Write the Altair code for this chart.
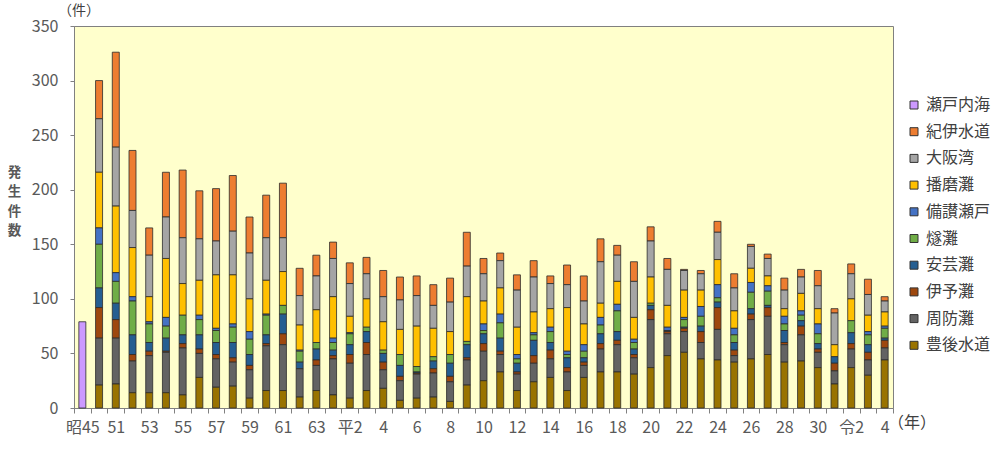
import altair as alt
import pandas as pd

FONT = "Noto Sans CJK JP"

# ---------------- data ----------------
years = ["昭45", "昭50", "昭51", "昭52", "昭53", "昭54", "昭55", "昭56", "昭57", "昭58",
         "昭59", "昭60", "昭61", "昭62", "昭63", "平1", "平2", "平3", "平4", "平5",
         "平6", "平7", "平8", "平9", "平10", "平11", "平12", "平13", "平14", "平15",
         "平16", "平17", "平18", "平19", "平20", "平21", "平22", "平23", "平24", "平25",
         "平26", "平27", "平28", "平29", "平30", "令1", "令2", "令3", "令4"]

tick_labels = ["昭45", "", "51", "", "53", "", "55", "", "57", "",
               "59", "", "61", "", "63", "", "平2", "", "4", "",
               "6", "", "8", "", "10", "", "12", "", "14", "",
               "16", "", "18", "", "20", "", "22", "", "24", "",
               "26", "", "28", "", "30", "", "令2", "", "4"]

series_names = ["瀬戸内海", "紀伊水道", "大阪湾", "播磨灘", "備讃瀬戸",
                "燧灘", "安芸灘", "伊予灘", "周防灘", "豊後水道"]
series_colors = ["#CC99FF", "#ED7D31", "#A5A5A5", "#FFC000", "#4472C4",
                 "#70AD47", "#255E91", "#9E480E", "#636363", "#997300"]

setonaikai = [79, 0, 0, 0, 0, 0, 0, 0, 0, 0, 0, 0, 0, 0, 0, 0, 0, 0, 0, 0, 0, 0, 0, 0, 0,
              0, 0, 0, 0, 0, 0, 0, 0, 0, 0, 0, 0, 0, 0, 0, 0, 0, 0, 0, 0, 0, 0, 0, 0]
bungo = [0, 21, 22, 14, 14, 14, 12, 28, 19, 20, 9, 16, 16, 10, 16, 12, 9, 16, 18, 7,
         9, 10, 6, 21, 25, 33, 16, 24, 28, 16, 28, 33, 33, 31, 37, 48, 51, 45, 44, 42,
         45, 49, 42, 43, 37, 22, 37, 30, 44]
suo = [0, 43, 42, 29, 34, 37, 43, 22, 26, 22, 26, 41, 42, 26, 23, 33, 32, 33, 17, 18,
       22, 22, 18, 23, 27, 16, 15, 17, 17, 17, 11, 21, 25, 15, 44, 20, 19, 15, 28, 6,
       36, 35, 16, 24, 14, 12, 17, 14, 11]
iyo = [0, 28, 17, 6, 4, 1, 4, 4, 4, 4, 4, 2, 10, 0, 5, 3, 8, 11, 7, 4,
       1, 4, 5, 2, 7, 3, 2, 7, 8, 4, 3, 5, 4, 3, 9, 2, 3, 10, 20, 5,
       5, 8, 2, 8, 3, 7, 5, 7, 7]
aki = [0, 18, 15, 18, 8, 12, 8, 13, 11, 14, 10, 8, 18, 6, 10, 5, 9, 10, 8, 10,
       1, 7, 12, 12, 9, 12, 8, 14, 7, 9, 4, 9, 8, 5, 4, 1, 1, 5, 5, 7,
       5, 2, 11, 5, 5, 6, 10, 7, 2]
hiuchi = [0, 40, 20, 31, 17, 11, 18, 14, 11, 14, 14, 18, 8, 10, 6, 7, 10, 4, 3, 10,
          5, 4, 8, 3, 3, 14, 4, 5, 10, 3, 6, 8, 19, 6, 2, 0, 7, 9, 4, 7,
          15, 13, 6, 5, 9, 0, 11, 9, 9]
bisan = [0, 15, 8, 4, 2, 8, 0, 4, 2, 3, 7, 1, 0, 1, 0, 4, 1, 0, 0, 0,
         0, 0, 0, 0, 6, 8, 4, 2, 4, 3, 6, 7, 6, 3, 0, 3, 2, 9, 12, 6,
         9, 5, 7, 4, 9, 0, 0, 3, 2]
harima = [0, 51, 61, 45, 23, 54, 29, 32, 49, 45, 30, 31, 31, 23, 30, 38, 15, 26, 26, 23,
          37, 26, 21, 41, 21, 24, 25, 19, 17, 40, 19, 13, 21, 20, 24, 20, 25, 15, 23, 16,
          13, 9, 7, 16, 14, 11, 20, 15, 13]
osaka = [0, 49, 54, 34, 38, 38, 42, 38, 31, 40, 42, 39, 31, 27, 31, 35, 30, 23, 23, 27,
         28, 21, 27, 28, 25, 25, 34, 32, 23, 21, 21, 38, 24, 33, 33, 33, 18, 15, 25, 21,
         20, 16, 17, 15, 21, 29, 23, 19, 10]
kii = [0, 35, 87, 55, 25, 41, 62, 44, 48, 51, 33, 39, 50, 25, 19, 15, 19, 15, 24, 21,
       18, 19, 22, 31, 14, 7, 14, 15, 7, 18, 23, 21, 9, 18, 13, 10, 1, 3, 10, 13,
       2, 4, 11, 7, 14, 4, 9, 14, 4]

y_ticks = [0, 50, 100, 150, 200, 250, 300, 350]
y_title = ["発", "生", "件", "数"]
unit_y = "（件）"
unit_x = "（年）"

# ---------------- table ----------------
series_values = [setonaikai, kii, osaka, harima, bisan, hiuchi, aki, iyo, suo, bungo]
rows = []
for s_idx, (name, vals) in enumerate(zip(series_names, series_values)):
    stack_pos = len(series_names) - 1 - s_idx  # 豊後水道 at the bottom
    for yr, v in zip(years, vals):
        if v > 0:
            rows.append({"year": yr, "series": name, "value": v, "ord": stack_pos})
df = pd.DataFrame(rows)

label_expr = "[" + ",".join("'" + t + "'" for t in tick_labels) + "][indexof([" + \
    ",".join("'" + y + "'" for y in years) + "], datum.value)]"

bars = alt.Chart(df).mark_bar(size=7, stroke="#2b2b2b", strokeWidth=0.8).encode(
    x=alt.X("year:N", sort=years,
            scale=alt.Scale(domain=years, paddingInner=0, paddingOuter=0),
            axis=alt.Axis(title=None, labelExpr=label_expr, tickBand="extent",
                          labelAngle=0, labelOverlap=False, tickSize=5,
                          labelPadding=6, labelFontSize=16)),
    y=alt.Y("value:Q", stack="zero",
            scale=alt.Scale(domain=[0, 350], nice=False),
            axis=alt.Axis(values=y_ticks, grid=False, tickSize=4, labelPadding=12,
                          labelFontSize=16, title=y_title, titleAngle=0,
                          titleAlign="center", titleBaseline="top",
                          titleX=-60, titleY=139, titleFontSize=13.5,
                          titleFontWeight="bold", titleColor="#595959",
                          titleLineHeight=19.5)),
    color=alt.Color("series:N",
                    scale=alt.Scale(domain=series_names, range=series_colors),
                    legend=alt.Legend(title=None, orient="none", legendX=832, legendY=71,
                                      symbolType="square", symbolSize=64,
                                      symbolStrokeColor="#333333", symbolStrokeWidth=1,
                                      labelFontSize=16, labelColor="#404040",
                                      labelFont=FONT, rowPadding=10.7, labelOffset=4,
                                      fillColor="white")),
    order=alt.Order("ord:Q", sort="ascending"),
)

txt_df = pd.DataFrame({"a": [0]})
ken = alt.Chart(txt_df).mark_text(align="center", baseline="middle", fontSize=14,
                                  font=FONT, color="#404040").encode(
    x=alt.value(5), y=alt.value(-15), text=alt.value(unit_y))
nen = alt.Chart(txt_df).mark_text(align="left", baseline="middle", fontSize=16,
                                  font=FONT, color="#404040").encode(
    x=alt.value(814), y=alt.value(397), text=alt.value(unit_x))

chart = alt.layer(bars, ken, nen).properties(
    width=819, height=382,
    autosize=alt.AutoSizeParams(type="none"),
    padding={"left": 74, "top": 26, "right": 107, "bottom": 41},
    background="white",
).configure_view(
    fill="#FFFFCC", stroke="#808080", strokeWidth=1
).configure_axis(
    labelFont=FONT, titleFont=FONT, labelColor="#595959",
    domainColor="#808080", tickColor="#808080"
)

chart.save("out.html", embed_options={"renderer": "svg", "actions": False})
